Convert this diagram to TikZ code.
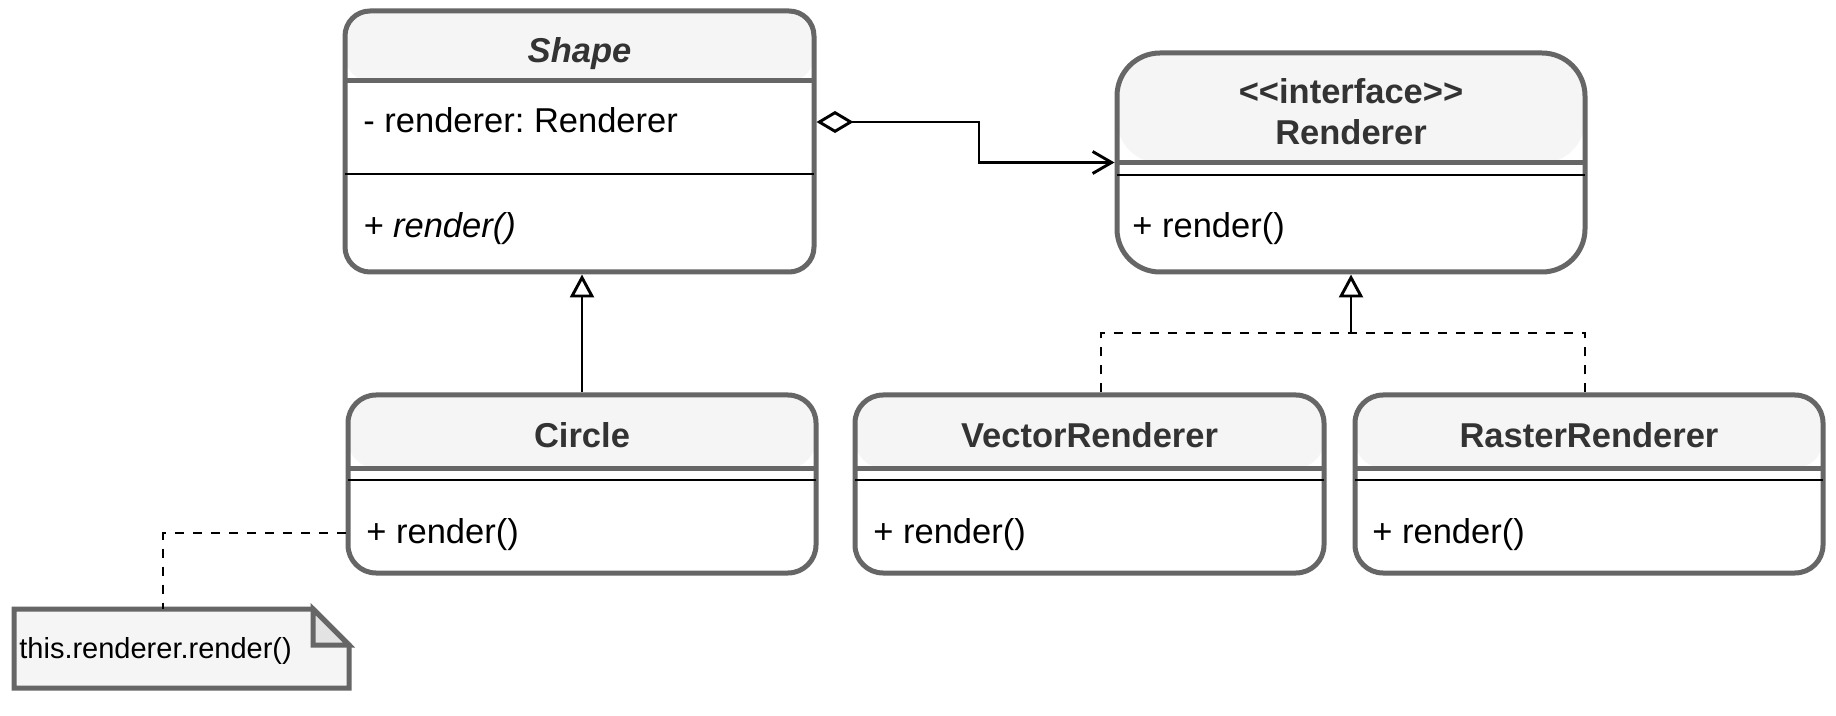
\documentclass[tikz,border=0pt]{standalone}
\usepackage{fontspec}
\setmainfont{Liberation Sans}
\usetikzlibrary{arrows.meta}
\frenchspacing
\definecolor{gb}{HTML}{666666}
\definecolor{hdrf}{HTML}{F5F5F5}
\definecolor{tg}{HTML}{333333}
\definecolor{foldf}{HTML}{E3E3E3}
\newcommand\umlfont{\fontsize{17.25pt}{20pt}\selectfont}
\newcommand\notefont{\fontsize{14.5pt}{17pt}\selectfont}
\tikzset{
  cls/.style={draw=gb, line width=2.5pt, fill=white, inner sep=0pt, outer sep=1.25pt},
  hdr/.style={path picture={\fill[hdrf] (path picture bounding box.north west) rectangle ([yshift=-#1]path picture bounding box.north east);}},
  hsep/.style={draw=gb, line width=2.5pt},
  bsep/.style={draw=black, line width=1.25pt},
  ttl/.style={anchor=base, inner sep=0pt, text=tg, font=\umlfont\bfseries},
  mem/.style={anchor=base west, inner sep=0pt, font=\umlfont},
  conn/.style={draw=black, line width=1.45pt},
  dsh/.style={conn, dash pattern=on 4.5pt off 4.5pt},
  inh/.style={-{Triangle[open, length=11.5pt, width=12pt]}},
}
\begin{document}
\begin{tikzpicture}[x=0.5pt,y=-0.5pt]
\useasboundingbox (0,0) rectangle (1836,716);
\fill[white] (0,0) rectangle (1836,716);

% Shape
\node[cls, hdr=35pt, rounded corners=12.5pt, minimum width=234.5pt, minimum height=130.5pt] (shape) at (579.5,141.5) {};
\draw[hsep] (345,81) -- (814,81);
\draw[bsep] (345,174) -- (814,174);
\node[ttl, font=\umlfont\bfseries\itshape] (shapet) at (579.5,63) {Shape};
\node[mem] (shapea) at (363,133) {- renderer: Renderer};
\node[mem, font=\umlfont\itshape] (shapem) at (363,238) {+ render()};

% Renderer
\node[cls, hdr=55pt, rounded corners=21.5pt, minimum width=234pt, minimum height=109.5pt] (ren) at (1351,162.5) {};
\draw[hsep] (1117,163) -- (1585,163);
\draw[bsep] (1117,175) -- (1585,175);
\node[ttl] (rens) at (1351,104) {<\kern0pt<interface>\kern0pt>};
\node[ttl] (rent) at (1351,145) {Renderer};
\node[mem] (renm) at (1132,238) {+ render()};

% Circle
\node[cls, hdr=36.5pt, rounded corners=14pt, minimum width=234pt, minimum height=89pt] (circ) at (582,484) {};
\draw[hsep] (348,468) -- (816,468);
\draw[bsep] (348,480) -- (816,480);
\node[ttl] (circt) at (582,447) {Circle};
\node[mem] (circm) at (366,543) {+ render()};

% VectorRenderer
\node[cls, hdr=36.5pt, rounded corners=14pt, minimum width=234.5pt, minimum height=89pt] (vec) at (1089.5,484) {};
\draw[hsep] (855,468) -- (1324,468);
\draw[bsep] (855,480) -- (1324,480);
\node[ttl] (vect) at (1089.5,447) {VectorRenderer};
\node[mem] (vecm) at (873,543) {+ render()};

% RasterRenderer
\node[cls, hdr=36.5pt, rounded corners=14pt, minimum width=234pt, minimum height=89pt] (ras) at (1589,484) {};
\draw[hsep] (1355,468) -- (1823,468);
\draw[bsep] (1355,480) -- (1823,480);
\node[ttl] (rast) at (1589,447) {RasterRenderer};
\node[mem] (rasm) at (1372,543) {+ render()};

% Note
\node[inner sep=0pt, outer sep=0pt, minimum width=167.5pt, minimum height=39.5pt] (note) at (181.5,648.5) {};
\filldraw[draw=gb, fill=hdrf, line width=2.5pt]
  (note.north west) -- ([xshift=-18pt]note.north east) -- ([yshift=-18pt]note.north east)
  -- (note.south east) -- (note.south west) -- cycle;
\filldraw[draw=gb, fill=foldf, line width=2.5pt, line join=miter]
  ([xshift=-18pt]note.north east) -- ([xshift=-18pt,yshift=-18pt]note.north east)
  -- ([yshift=-18pt]note.north east) -- cycle;
\node[anchor=base west, inner sep=0pt, font=\notefont] (notet) at (19,658) {this.renderer.render()};

% Connectors
\coordinate (ak) at (979,122);
\draw[conn, {Diamond[open, length=18.5pt, width=11pt]}-{Straight Barb[length=9.5pt, width=11pt]}]
  (shape.east |- ak) -- (ak) |- (ren.west);

\draw[conn, inh] (circ.north) -- (circ.north |- shape.south);

\coordinate (rj) at (1351,333);
\draw[dsh] ([xshift=5.75pt]vec.north) |- (rj);
\draw[dsh] ([xshift=-2pt]ras.north) |- (rj);
\draw[conn, inh] (rj) -- (rj |- ren.south);

\coordinate (nk) at (163,533);
\draw[dsh] (circ.west |- nk) -- (nk) -- (nk |- note.north);
\end{tikzpicture}
\end{document}
